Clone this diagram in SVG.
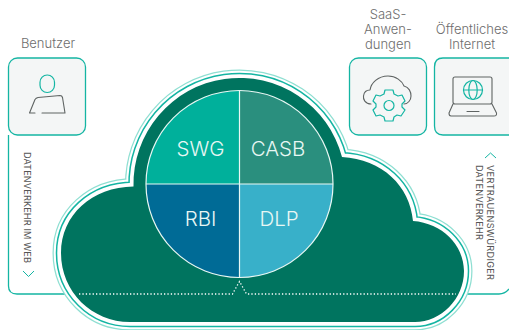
<svg xmlns="http://www.w3.org/2000/svg" width="509" height="330" viewBox="0 0 509 330">
<style>
.lbl{font-family:"Inter","Liberation Sans",sans-serif;font-size:13px;font-weight:300;fill:#6d6d6d;text-anchor:middle}
.v{font-family:"Inter","Liberation Sans",sans-serif;font-size:9.2px;fill:#555}
.q{font-family:"Inter","Liberation Sans",sans-serif;font-size:20.5px;font-weight:300;fill:#e8f7f4;text-anchor:middle}
.box{fill:#f4f6f6;stroke:#14b5a3;stroke-width:1.3}
.ln{fill:none;stroke:#14b5a3;stroke-width:1.3}
.ch{fill:none;stroke:#14b5a3;stroke-width:1}
.ic{fill:none;stroke:#5f6463;stroke-width:1.1;stroke-linecap:round;stroke-linejoin:round}
.it{fill:none;stroke:#14b5a3;stroke-width:1.2;stroke-linecap:round;stroke-linejoin:round}
</style>
<defs>
<path id="cl" d="M133.500 186.500A106 106 0 0 1 342 157C382 159 410 186 413 221C442 223 464 245 464 271C464 299 441 322 415 322H130C92 322 61 292 61 253C61 215 92 187 133.500 186.500Z"/>
</defs>
<g id="connectors">
<path class="ln" d="M8.500 135V286Q8.500 294 17 294H72"/>
<path class="ln" d="M460 294H499Q505 294 509 289"/>
<path class="ch" d="M23 271L28.500 276.500L34 271"/>
<path class="ch" d="M485 158L490.500 153L496 158"/>
</g>
<g id="user">
<rect class="box" x="8.500" y="58" width="77" height="77" rx="9"/>
<text class="lbl" x="48" y="48">Benutzer</text>
<rect class="it" x="40" y="75" width="14.500" height="17.500" rx="7.200"/>
<path class="ic" d="M29.500 113L35 99.500Q36 98 38 97.500L60 95.500Q62 95.500 62.500 97.500L65 113H42M29.500 113H35"/>
</g>
<g id="saas">
<rect class="box" x="349.500" y="58" width="77" height="77" rx="9"/>
<text class="lbl" x="388" y="19">SaaS-</text>
<text class="lbl" x="388" y="34">Anwen-</text>
<text class="lbl" x="388" y="49">dungen</text>
<path class="ic" d="M371 104C365 104 363 99 363.500 96C364 92 367 90 370 90C371 83 378 76 388 76C396 76 402 81 404 86C409 87 411 92 411 96C411 100 408 104 404 104"/>
<path class="it" d="M385 90H393L394 94L398 96L402 95L405 101L402 104V107L405 110L401 116L397 115L394 117L393 121H385L384 117L380 115L376 116L373 110L376 107V104L373 101L376 95L380 96L384 94Z"/>
<circle class="it" cx="389" cy="105.500" r="5"/>
</g>
<g id="internet">
<path class="box" d="M509 58H443Q434.500 58 434.500 67V126Q434.500 135 443 135H509"/>
<text class="lbl" x="472" y="34">Öffentliches</text>
<text class="lbl" x="472" y="49">Internet</text>
<rect class="ic" x="453" y="77" width="39" height="27" rx="2"/>
<path class="ic" d="M453 104L449 113Q449 116 451 116H494Q497 116 496.500 113L492 104M467 111.500H479"/>
<circle class="it" cx="473" cy="90" r="9.500"/>
<ellipse class="it" cx="473" cy="90" rx="4.200" ry="9.500"/>
<path class="it" d="M463.500 90H482.500"/>
</g>
<text class="v" transform="translate(24 152) rotate(90)" textLength="111">DATENVERKEHR IM WEB</text>
<text class="v" transform="translate(487 165) rotate(90)" textLength="115">VERTRAUENSWÜRDIGER</text>
<text class="v" transform="translate(475.500 165) rotate(90)" textLength="75">DATENVERKEHR</text>
<g id="cloud">
<use href="#cl" fill="#8fdfd2" stroke="#8fdfd2" stroke-width="17" stroke-miterlimit="6"/>
<use href="#cl" fill="#fff" stroke="#fff" stroke-width="14.500" stroke-miterlimit="6"/>
<use href="#cl" fill="#14b5a3" stroke="#14b5a3" stroke-width="10.500" stroke-miterlimit="6"/>
<use href="#cl" fill="#fff" stroke="#fff" stroke-width="7.500" stroke-miterlimit="6"/>
<use href="#cl" fill="#00745f"/>
<path d="M79 294H232.500L239.500 281.500L246.500 294H456" fill="none" stroke="#fff" stroke-width="1.300" stroke-dasharray="1.300 2.100"/>
</g>
<g id="swg"><path d="M239.500 184V90.500A93.500 93.500 0 0 0 146 184Z" fill="#00b09b"/><text class="q" x="200.500" y="156">SWG</text></g>
<g id="casb"><path d="M239.500 184V90.500A93.500 93.500 0 0 1 333 184Z" fill="#2a8f7e"/><text class="q" x="278" y="156">CASB</text></g>
<g id="rbi"><path d="M239.500 184V277.500A93.500 93.500 0 0 1 146 184Z" fill="#006b96"/><text class="q" x="200.500" y="226">RBI</text></g>
<g id="dlp"><path d="M239.500 184V277.500A93.500 93.500 0 0 0 333 184Z" fill="#38b0c9"/><text class="q" x="279" y="226">DLP</text></g>
<path d="M239.500 90.500V277.500M146 184H333" stroke="#e8f7f4" stroke-width="1.200" fill="none"/>
<circle cx="239.500" cy="184" r="93.500" fill="none" stroke="#e8f7f4" stroke-width="1.200"/>
</svg>
